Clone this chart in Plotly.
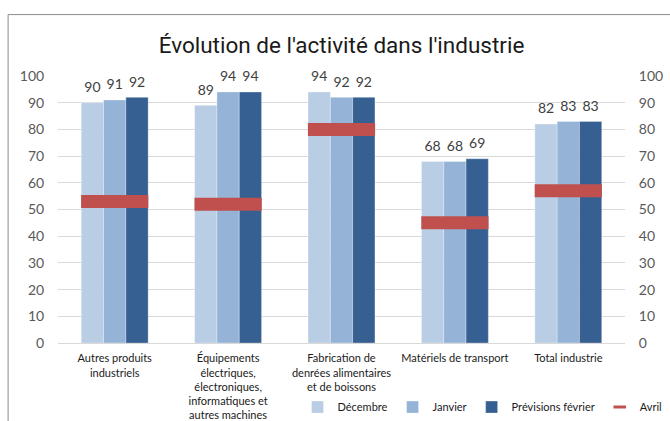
import plotly.graph_objects as go

categories = [
    "Autres produits<br>industriels",
    "Équipements<br>électriques,<br>électroniques,<br>informatiques et<br>autres machines",
    "Fabrication de<br>denrées alimentaires<br>et de boissons",
    "Matériels de transport",
    "Total industrie",
]
decembre = [90, 89, 94, 68, 82]
janvier = [91, 94, 92, 68, 83]
previsions_fevrier = [92, 94, 92, 69, 83]
avril = [53, 52, 80, 45, 57]
y_ticks = [0, 10, 20, 30, 40, 50, 60, 70, 80, 90, 100]

FONT = "Lato"
W, H = 670, 421
ML, MR, MT, MB = 58, 45, 76, 78
GAP = 0.41
RED = "#C0504D"

series = [
    ("Décembre", decembre, "#B9CDE5"),
    ("Janvier", janvier, "#95B3D7"),
    ("Prévisions février", previsions_fevrier, "#376092"),
]

fig = go.Figure()
for name, vals, col in series:
    fig.add_trace(go.Bar(
        name=name, x=categories, y=vals, offsetgroup=name,
        marker=dict(color=col, line=dict(width=0.5, color="rgba(255,255,255,0.6)")),
    ))
# value labels, grouped like the bars
for name, vals, col in series:
    fig.add_trace(go.Scatter(
        x=categories, y=vals, offsetgroup=name, alignmentgroup="labels",
        mode="markers+text",
        text=[str(v) for v in vals], textposition="top center",
        marker=dict(size=10, opacity=0),
        textfont=dict(size=14, color="#404040", family=FONT),
        cliponaxis=False, showlegend=False, hoverinfo="skip",
    ))

# Avril markers (on overlaid axes with identical ranges, so they stay centred)
fig.add_trace(go.Scatter(
    name="Avril", x=categories, y=avril, mode="markers", xaxis="x2", yaxis="y2",
    offsetgroup="avril", alignmentgroup="avril",
    marker=dict(symbol="line-ew", size=48, color=RED,
                line=dict(width=13, color=RED)),
    showlegend=False,
))
# legend entry for Avril
fig.add_trace(go.Scatter(
    name="Avril", x=[None], y=[None], mode="markers", xaxis="x2", yaxis="y2",
    offsetgroup="avril", alignmentgroup="avril",
    marker=dict(symbol="line-ew", size=9, color=RED, line=dict(width=3, color=RED)),
))

axis_common = dict(
    range=[0, 100], tickvals=y_ticks,
    tickfont=dict(size=14, color="#595959", family=FONT),
    ticks="outside", ticklen=10, tickcolor="rgba(0,0,0,0)",
    zeroline=False, automargin=False, fixedrange=True,
)
fig.update_layout(
    width=W, height=H,
    margin=dict(l=ML, r=MR, t=MT, b=MB, autoexpand=False),
    paper_bgcolor="white", plot_bgcolor="white",
    barmode="group", bargap=GAP, bargroupgap=0,
    scattermode="group", scattergap=GAP,
    title=dict(text="Évolution de l'activité dans l'industrie",
               x=0.5, xref="paper", y=0.893, yanchor="middle",
               font=dict(size=22.5, color="#1a1a1a", family="Roboto")),
    xaxis=dict(showgrid=False, showline=True, linecolor="#D9D9D9", linewidth=1,
               tickfont=dict(size=11, color="#1a1a1a", family=FONT),
               ticks="outside", ticklen=5, tickcolor="rgba(0,0,0,0)",
               automargin=False, fixedrange=True),
    xaxis2=dict(overlaying="x", visible=False, range=[-0.5, 4.5],
                categoryorder="array", categoryarray=categories, fixedrange=True),
    yaxis=dict(showgrid=True, gridcolor="#D9D9D9", gridwidth=1, **axis_common),
    yaxis2=dict(overlaying="y", side="right", showgrid=False, anchor="x", **axis_common),
    showlegend=True,
    legend=dict(orientation="h", x=1.075, xanchor="right", y=-0.24, yanchor="middle",
                font=dict(size=11, color="#1a1a1a", family=FONT),
                traceorder="normal", itemwidth=30,
                bgcolor="rgba(0,0,0,0)"),
    shapes=[dict(type="rect", xref="paper", yref="paper",
                 x0=-0.088, x1=1.3, y0=-0.5, y1=1.23,
                 line=dict(color="#8c8c8c", width=1), layer="below")],
)

fig.write_html(
    "out.html",
    config={"displayModeBar": False},
    post_script="document.body.style.margin='0';document.body.style.overflow='hidden';",
)
